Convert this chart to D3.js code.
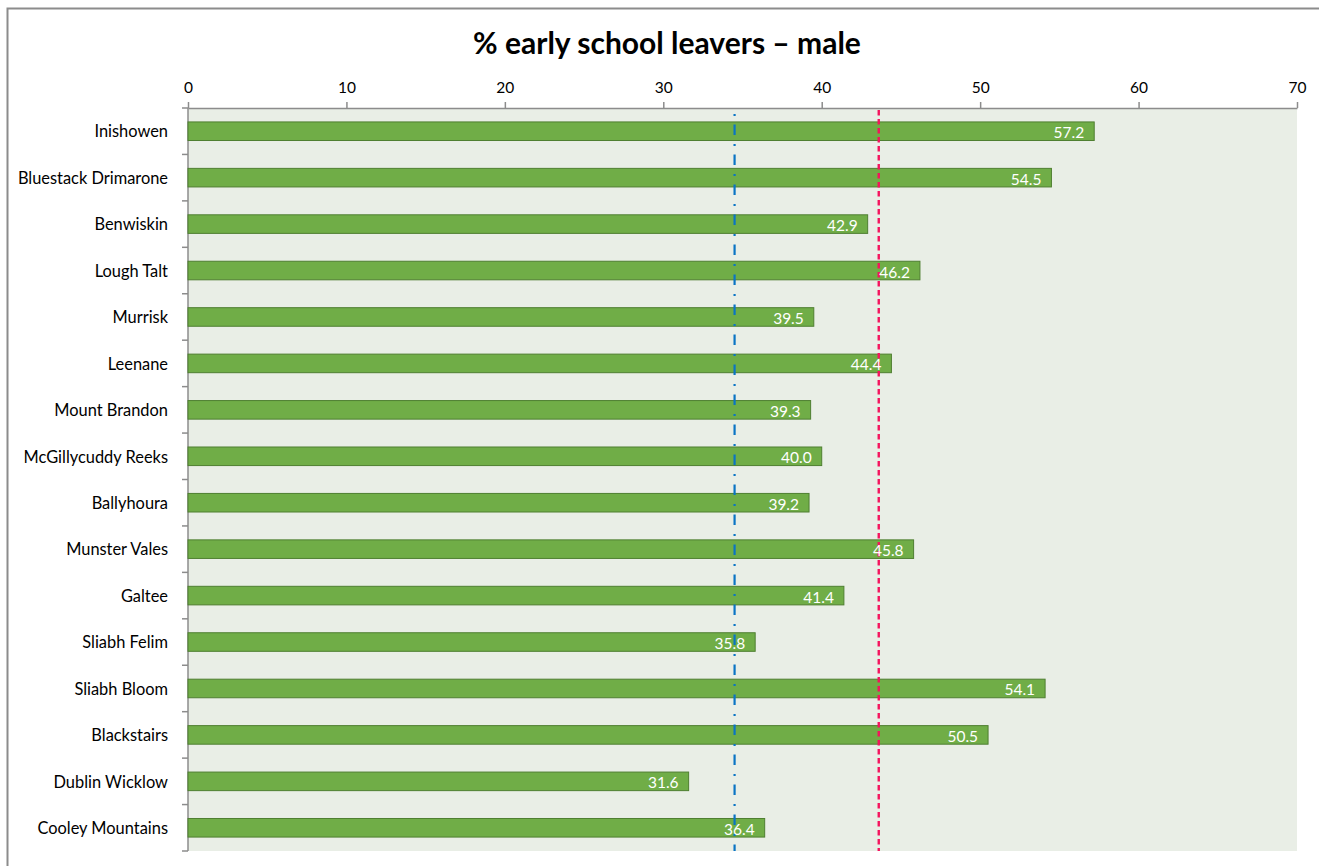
<!DOCTYPE html>
<html>
<head>
<meta charset="utf-8">
<script src="https://cdn.jsdelivr.net/npm/d3@7"></script>
<style>
  html, body { margin: 0; padding: 0; background: #fff; }
  svg { display: block; }
</style>
</head>
<body>
<svg id="chart" width="1319" height="866"></svg>
<script>
// Share of early school leavers (male) by area
const areas = [
  "Inishowen", "Bluestack Drimarone", "Benwiskin", "Lough Talt", "Murrisk",
  "Leenane", "Mount Brandon", "McGillycuddy Reeks", "Ballyhoura", "Munster Vales",
  "Galtee", "Sliabh Felim", "Sliabh Bloom", "Blackstairs", "Dublin Wicklow",
  "Cooley Mountains"
];
const values = [57.2, 54.5, 42.9, 46.2, 39.5, 44.4, 39.3, 40.0, 39.2, 45.8, 41.4, 35.8, 54.1, 50.5, 31.6, 36.4];
const xTicks = [0, 10, 20, 30, 40, 50, 60, 70];
// Reference lines
const blueRef = 34.5;
const redRef = 43.6;

const svg = d3.select("#chart");
const font = "Lato, 'Liberation Sans', sans-serif";

// outer frame
svg.append("rect")
  .attr("x", 7.5).attr("y", 8.5)
  .attr("width", 1400).attr("height", 1000)
  .attr("fill", "#fff").attr("stroke", "#8c8c8c").attr("stroke-width", 2);

const plot = { left: 188, right: 1297, top: 108, bottom: 851 };

const x = d3.scaleLinear().domain([0, 70]).range([plot.left, plot.right]);
const y = d3.scaleBand().domain(areas).range([plot.top, plot.bottom]).paddingInner(0.6).paddingOuter(0.3);
const yBands = d3.scaleBand().domain(areas).range([plot.top, plot.bottom]);

// plot background
svg.append("rect")
  .attr("x", plot.left).attr("y", plot.top)
  .attr("width", plot.right - plot.left).attr("height", plot.bottom - plot.top)
  .attr("fill", "#e9eee6");

// title
svg.append("text")
  .attr("x", 667).attr("y", 54)
  .attr("text-anchor", "middle")
  .attr("font-family", font).attr("font-weight", "bold")
  .attr("font-size", 30).attr("fill", "#000")
  .text("% early school leavers \u2013 male");

// top value axis
const xAxis = svg.append("g")
  .attr("transform", `translate(0,${plot.top})`)
  .call(d3.axisTop(x).tickValues(xTicks).tickSize(6).tickSizeOuter(0).tickPadding(9));
xAxis.select(".domain").attr("stroke", "#8c8c8c").attr("stroke-width", 1.5);
xAxis.selectAll(".tick line").attr("stroke", "#8c8c8c").attr("stroke-width", 1.5);
xAxis.selectAll(".tick text")
  .attr("font-family", font).attr("font-size", 15.5).attr("fill", "#000");

// left category axis with ticks between categories
const yAxis = svg.append("g")
  .attr("transform", `translate(${plot.left},0)`)
  .call(d3.axisLeft(y).tickSize(0).tickPadding(20));
yAxis.select(".domain").remove();
yAxis.selectAll(".tick text")
  .attr("font-family", font).attr("font-size", 16.4).attr("fill", "#000")
  .attr("dy", "0.38em");

svg.append("line")
  .attr("x1", plot.left).attr("x2", plot.left)
  .attr("y1", plot.top).attr("y2", plot.bottom)
  .attr("stroke", "#8c8c8c").attr("stroke-width", 1.5);

const boundaries = areas.map(a => yBands(a)).concat([plot.bottom]);
svg.append("g").selectAll("line")
  .data(boundaries)
  .join("line")
  .attr("x1", plot.left - 6).attr("x2", plot.left)
  .attr("y1", d => d).attr("y2", d => d)
  .attr("stroke", "#8c8c8c").attr("stroke-width", 1.5);

// bars
const data = areas.map((a, i) => ({ area: a, value: values[i] }));
svg.append("g").selectAll("rect")
  .data(data)
  .join("rect")
  .attr("x", x(0))
  .attr("y", d => y(d.area))
  .attr("width", d => x(d.value) - x(0))
  .attr("height", y.bandwidth())
  .attr("fill", "#70ad47")
  .attr("stroke", "#4f7f31").attr("stroke-width", 1);

// reference lines
svg.append("line")
  .attr("x1", x(blueRef)).attr("x2", x(blueRef))
  .attr("y1", plot.top + 6).attr("y2", plot.bottom)
  .attr("stroke", "#0a74c4").attr("stroke-width", 2.2)
  .attr("stroke-dasharray", "2,8.5,10.5,9");

svg.append("line")
  .attr("x1", x(redRef)).attr("x2", x(redRef))
  .attr("y1", plot.top + 2).attr("y2", plot.bottom)
  .attr("stroke", "#f5135e").attr("stroke-width", 2.4)
  .attr("stroke-dasharray", "5.5,3.5");

// value labels inside bar ends
svg.append("g").selectAll("text")
  .data(data)
  .join("text")
  .attr("x", d => x(d.value) - 10)
  .attr("y", d => y(d.area) + y.bandwidth() / 2)
  .attr("dy", "0.45em")
  .attr("text-anchor", "end")
  .attr("font-family", font).attr("font-size", 15.5)
  .attr("fill", "#fff")
  .text(d => d.value.toFixed(1));
</script>
</body>
</html>
